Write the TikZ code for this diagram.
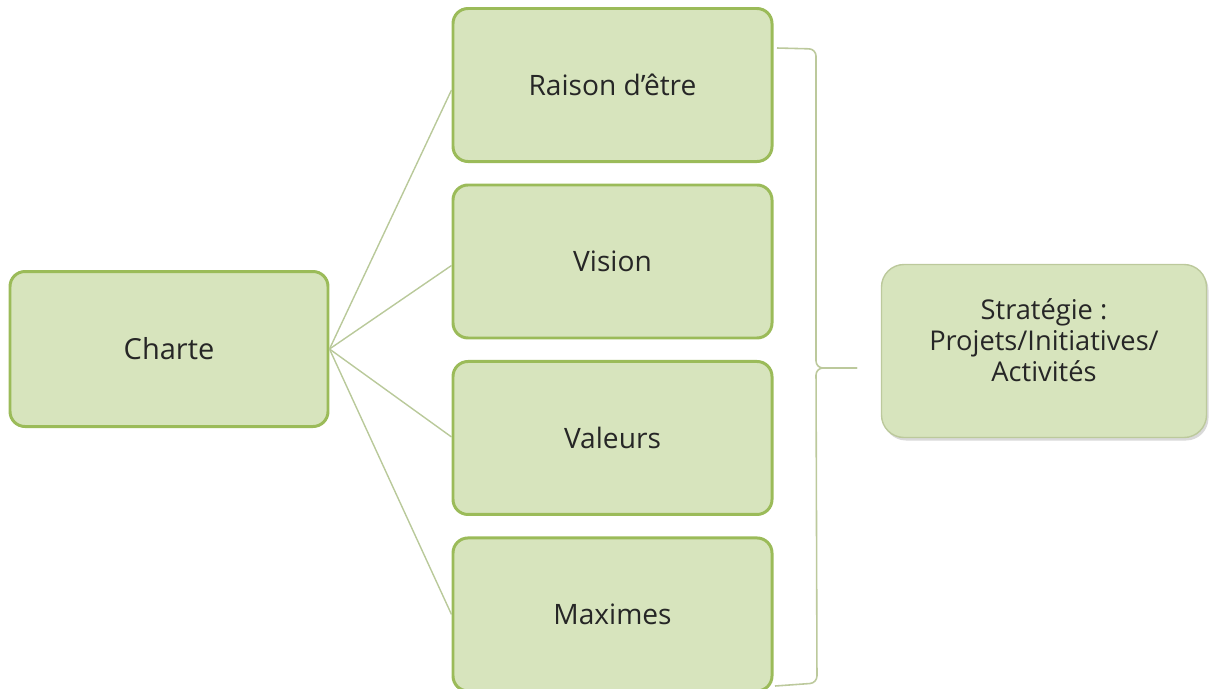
\documentclass[tikz,border=0pt]{standalone}
\usepackage{fontspec}
\setmainfont{Open Sans}
\usepackage{tikz}
\usetikzlibrary{positioning,shadows}

\definecolor{boxfill}{HTML}{D7E4BD}
\definecolor{boxline}{HTML}{9BBB59}
\definecolor{linkline}{HTML}{B9C99A}
\definecolor{softline}{HTML}{BCC99C}

\begin{document}
\begin{tikzpicture}[node distance=0.41cm,
    item/.style={draw=boxline, line width=1.7pt, fill=boxfill, rounded corners=0.3cm,
        minimum width=6.38cm, minimum height=3.06cm, text=black!85,
        font=\fontsize{16}{19}\selectfont},
    goal/.style={draw=softline, line width=0.8pt, fill=boxfill, rounded corners=0.45cm,
        minimum width=6.5cm, minimum height=3.46cm, text=black!85, align=center,
        font=\fontsize{15.5}{17.6}\selectfont, drop shadow={shadow xshift=0.04cm, shadow yshift=-0.06cm, opacity=0.3}},
    link/.style={draw=linkline, line width=0.8pt}]

        \useasboundingbox (0,0) rectangle (24.18,-13.76);

        % Charte
        \node[item, minimum width=6.36cm, minimum height=3.1cm, font=\fontsize{16.5}{19}\selectfont] (charte) at (3.38,-6.98) {Charte};

        % column of the four parts
        \node[item] (raison) at (12.25,-1.70) {Raison d'être};
        \node[item, below=of raison] (vision) {Vision};
        \node[item, below=of vision] (valeurs) {Valeurs};
        \node[item, below=of valeurs] (maximes) {Maximes};

        % links from Charte
        \foreach \part/\dy in {raison/-0.1, vision/-0.08, valeurs/0.02, maximes/0} {
            \draw[link] (charte.east) -- ([yshift=\dy cm]\part.west);
        }

        % Strategie
        \node[goal] (strategie) at (20.88,-7.02) {};
        \node[text=black!85, align=center, font=\fontsize{15.5}{17.6}\selectfont]
            (strategietext) at ([yshift=0.22cm]strategie.center) {Stratégie :\\Projets/Initiatives/\\Activités};

        % brace
        \coordinate (bracetop) at (15.54,-0.96);
        \coordinate (bracebot) at (15.50,-13.72);
        \coordinate (bracetip) at (17.14,-7.36);
        \draw[link, draw=softline, line width=0.9pt, rounded corners=4pt]
            (bracetop) -- (16.32,-0.98) -- (16.32,-7.36) -- (bracetip);
        \draw[link, draw=softline, line width=0.9pt, rounded corners=4pt]
            (bracebot) -- (16.34,-13.66) -- (16.32,-7.36) -- (bracetip);

\end{tikzpicture}
\end{document}
